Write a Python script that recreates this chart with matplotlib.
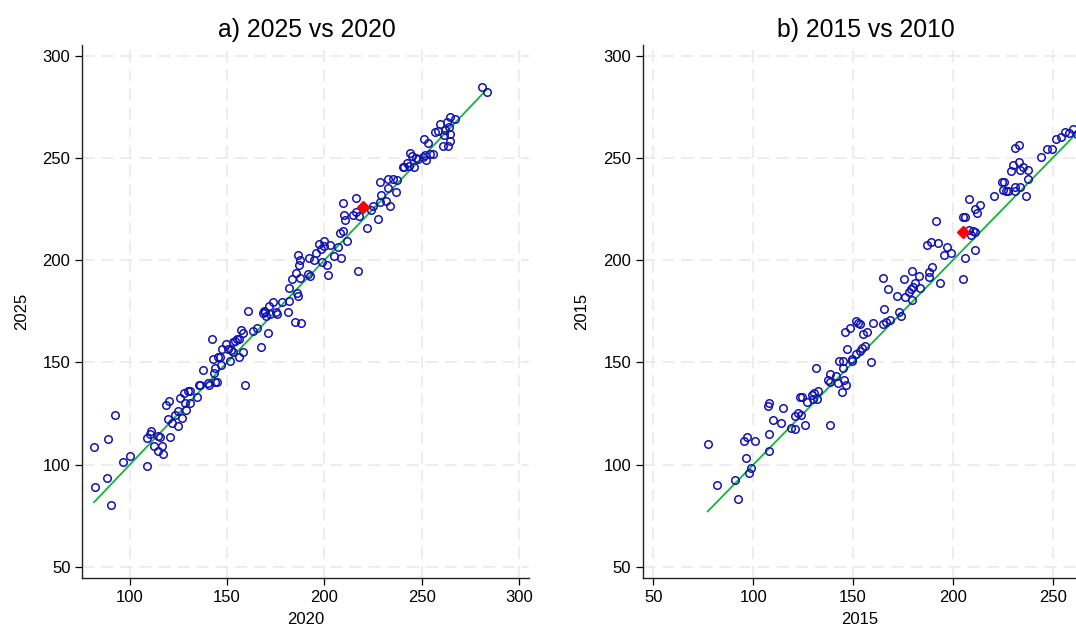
import matplotlib
matplotlib.use('Agg')
import matplotlib.pyplot as plt
import numpy as np

plt.rcParams['font.family'] = ['Liberation Sans', 'DejaVu Sans']

# panel a: 2020 (x) vs 2025 (y)
x_a = [81.7, 82.0, 88.2, 88.9, 90.4, 92.5, 96.6, 100.0, 108.7, 109.1, 110.6, 111.0, 112.7, 114.6, 116.4,
       117.1, 114.6, 115.4, 120.5, 118.7, 120.2, 119.5, 121.6, 123.3, 124.9, 126.9, 124.9, 126.0, 127.9,
       129.8, 131.2, 128.2, 128.8, 131.2, 134.4, 135.6, 136.0, 137.7, 140.3, 140.6, 142.5, 142.8, 143.7,
       143.4, 143.9, 145.0, 145.6, 146.6, 146.7, 147.6, 149.3, 150.5, 151.4, 151.9, 152.9, 153.1, 153.9,
       155.0, 156.3, 156.3, 157.2, 158.0, 158.0, 159.3, 160.6, 163.2, 165.6, 167.5, 168.5, 168.9, 169.7,
       170.1, 171.1, 171.8, 172.3, 173.7, 175.0, 175.9, 178.1, 181.1, 181.9, 184.8, 187.8,
       181.9, 183.2, 186.0, 186.3, 185.6, 187.7, 186.8, 186.3, 187.5, 191.8, 192.8, 191.9, 194.5, 195.8,
       197.1, 198.3, 199.8, 200.0, 199.0, 201.5, 202.1, 203.1, 205.0, 207.0, 208.6, 207.9, 209.7, 211.8,
       210.4, 209.9, 209.4, 214.7, 216.1, 217.8, 216.3, 217.5, 221.7,
       223.8, 225.2, 227.8, 228.8, 231.5, 233.9, 228.9, 232.5, 236.8, 228.8, 232.7, 235.3, 237.3, 240.6,
       243.5, 245.9, 248.1, 252.4, 244.2, 251.5, 242.5, 240.7, 245.0, 247.3, 250.7, 254.4, 255.8, 251.4,
       253.4, 257.0, 258.3, 259.6, 261.0, 263.5, 261.3, 264.4, 264.7, 262.1, 263.8, 263.0, 264.7, 267.3,
       281.0, 283.6]
y_a = [108.7, 89.2, 93.6, 112.5, 80.1, 124.4, 101.3, 104.2, 113.0, 99.3, 114.8, 116.6, 109.2, 106.9, 109.2,
       105.3, 114.1, 113.8, 113.8, 129.4, 131.1, 122.4, 120.3, 124.4, 119.0, 123.1, 126.4, 132.8, 135.3,
       136.1, 136.1, 130.4, 126.8, 130.1, 133.2, 138.9, 139.2, 146.5, 140.2, 139.0, 161.7, 151.6, 147.2,
       145.0, 140.5, 140.4, 152.9, 152.9, 149.0, 156.8, 158.9, 156.8, 150.9, 156.2, 155.0, 160.1, 160.7,
       161.4, 161.5, 152.9, 165.9, 164.3, 155.3, 138.9, 175.4, 165.3, 167.1, 157.8, 174.1, 175.4, 174.6,
       172.8, 164.3, 177.8, 173.6, 179.6, 174.9, 173.6, 179.8, 174.6, 180.1, 170.0, 169.5,
       186.4, 190.7, 183.9, 182.6, 193.6, 191.3, 197.7, 202.7, 200.1, 193.3, 192.3, 201.0, 200.1, 203.4,
       208.0, 205.4, 209.6, 207.0, 199.0, 197.6, 192.7, 207.3, 202.2, 206.4, 201.1, 213.5, 214.5, 209.3,
       219.6, 222.0, 228.2, 222.0, 223.6, 221.7, 230.3, 194.6, 215.6,
       224.6, 226.5, 220.0, 228.6, 229.1, 226.5, 232.1, 235.2, 233.5, 238.4, 239.6, 239.6, 239.3, 245.5,
       246.1, 245.5, 249.4, 249.0, 252.6, 251.3, 247.7, 245.7, 251.0, 249.9, 250.6, 252.0, 252.0, 259.1,
       257.2, 262.6, 263.3, 266.6, 255.9, 256.0, 261.2, 261.6, 258.3, 263.7, 265.3, 267.7, 270.2, 269.2,
       284.6, 282.1]
hl_a = (220.0, 226.0)

# panel b: 2010 (x) vs 2015 (y)
x_b = [77.2, 81.7, 92.3, 90.8, 96.3, 98.1, 99.0, 95.6, 97.1, 100.8, 107.9, 108.1, 107.3, 108.1, 109.8,
       114.1, 115.1, 119.0, 121.0, 121.0, 122.6, 124.0, 126.0, 123.3, 124.3, 126.8, 129.6, 130.6, 132.6,
       130.1, 132.2, 138.5, 131.6, 137.3, 138.5, 138.5, 141.3, 142.6, 145.6, 146.3, 144.3, 145.1, 143.0,
       144.8, 149.3, 146.8, 146.1, 148.5, 151.3, 152.7, 153.7, 156.9, 155.2, 160.2, 149.3, 151.5, 153.5,
       154.5, 156.0, 159.0, 164.9, 166.5, 168.5, 165.7, 165.2, 167.4, 172.2, 172.9, 174.0, 175.7, 175.9,
       177.9, 179.0, 180.2, 180.9, 179.4, 179.4, 183.6, 183.2, 188.2, 188.2, 189.6, 193.6, 191.6, 186.9,
       189.1, 192.7, 197.2, 198.9, 195.6, 204.9, 206.2, 211.2, 205.2, 206.1, 208.2, 209.9, 210.9, 208.9,
       208.2, 211.2, 212.2, 213.6, 220.5, 224.8, 225.6, 225.0, 226.6, 227.5, 231.3, 231.1, 233.6, 236.6,
       237.5, 229.1, 230.0, 233.3, 233.5, 235.3, 237.5, 231.1, 233.3, 244.0, 247.0, 249.7, 251.6, 254.0,
       256.2, 258.3, 260.3, 262.0]
y_b = [110.1, 90.0, 83.2, 92.6, 103.4, 95.9, 98.3, 111.8, 113.8, 111.5, 106.5, 115.1, 128.8, 130.4, 122.1,
       120.6, 127.8, 117.9, 117.5, 123.6, 125.2, 124.2, 119.5, 133.0, 133.0, 130.9, 134.2, 135.0, 136.3,
       132.2, 132.2, 119.5, 147.4, 141.5, 140.7, 144.3, 143.5, 139.9, 141.2, 138.9, 135.6, 147.4, 150.8,
       150.8, 150.8, 156.5, 164.8, 167.1, 170.5, 169.2, 168.7, 165.1, 164.0, 169.2, 151.6, 154.2, 155.8,
       157.0, 158.1, 150.1, 168.9, 169.9, 170.9, 176.2, 191.2, 186.0, 182.7, 174.6, 172.8, 190.9, 182.2,
       184.3, 185.8, 186.8, 188.8, 180.6, 194.6, 186.3, 192.3, 192.0, 194.4, 196.6, 188.8, 219.4, 207.6,
       208.9, 208.6, 206.6, 203.7, 202.4, 190.9, 201.1, 205.0, 221.0, 221.0, 214.8, 214.3, 213.7, 212.4,
       229.8, 224.9, 223.3, 226.9, 231.4, 238.4, 238.4, 234.4, 233.9, 234.0, 235.7, 234.0, 235.7, 231.4,
       239.6, 243.8, 246.6, 248.2, 244.1, 245.7, 244.1, 254.7, 256.5, 250.3, 254.4, 254.4, 259.3, 260.1,
       262.9, 262.1, 264.3, 261.5]
hl_b = (205.0, 214.0)

panels = [
    ('a) 2025 vs 2020', x_a, y_a, hl_a, '2020', '2025', [100, 150, 200, 250, 300], (75.7, 305.3)),
    ('b) 2015 vs 2010', x_b, y_b, hl_b, '2015', '2015', [50, 100, 150, 200, 250], (44.8, 261.7)),
]
yticks = [50, 100, 150, 200, 250, 300]

fig = plt.figure(figsize=(10.76, 6.31), dpi=100)
rects = [[0.0766, 0.0835, 0.4153, 0.8452], [0.5976, 0.0835, 0.4024, 0.8452]]
title_x = [0.503, 0.515]

for i, (title, xs, ys, hl, xl, yl, xt, xlim) in enumerate(panels):
    ax = fig.add_axes(rects[i])
    xs = np.array(xs)
    ax.plot(xs, ys, 'o', mfc='none', mec='#1212b4', ms=5.4, mew=1.1, zorder=3)
    ref = np.array([xs.min(), xs.max()])
    ax.plot(ref, ref, color='#11b53a', lw=1.3, zorder=2)
    ax.plot(hl[0], hl[1], 'D', color='#ff0000', ms=6, zorder=4)
    ax.set_xlim(xlim)
    ax.set_ylim(44.5, 305.2)
    ax.set_xticks(xt)
    ax.set_yticks(yticks)
    ax.grid(True, color='#e8e8e8', lw=1.1, linestyle=(0, (8, 4.5)))
    ax.set_axisbelow(True)
    for s in ['top', 'right']:
        ax.spines[s].set_visible(False)
    for s in ['left', 'bottom']:
        ax.spines[s].set_color('#222222')
        ax.spines[s].set_linewidth(1.0)
    ax.tick_params(direction='out', length=5, width=0.9, labelsize=12, pad=3.6)
    ax.set_xlabel(xl, fontsize=12, labelpad=5)
    ax.set_ylabel(yl, fontsize=12, labelpad=10)
    ax.set_title(title, fontsize=17.8, x=title_x[i], pad=6)

plt.savefig('out.png', dpi=100)
